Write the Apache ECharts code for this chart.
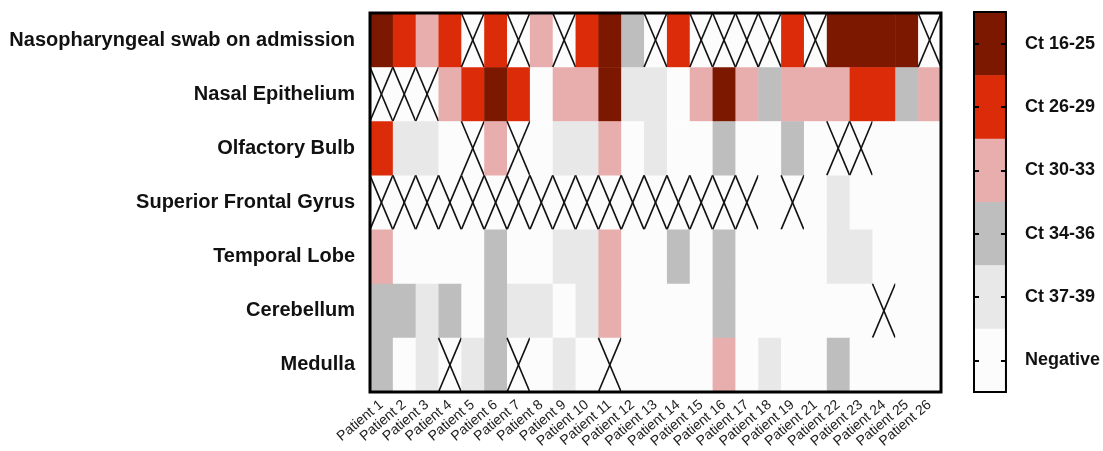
<!DOCTYPE html>
<html>
<head>
<meta charset="utf-8">
<script src="https://cdn.jsdelivr.net/npm/echarts@6/dist/echarts.min.js"></script>
<style>
html,body{margin:0;padding:0;background:#fff;}
#chart{width:1103px;height:451px;}
</style>
</head>
<body>
<div id="chart"></div>
<script>
// ---- data ----
const patients = ['Patient 1','Patient 2','Patient 3','Patient 4','Patient 5','Patient 6','Patient 7','Patient 8','Patient 9','Patient 10','Patient 11','Patient 12','Patient 13','Patient 14','Patient 15','Patient 16','Patient 17','Patient 18','Patient 19','Patient 21','Patient 22','Patient 23','Patient 24','Patient 25','Patient 26'];
const tissues = ['Nasopharyngeal swab on admission','Nasal Epithelium','Olfactory Bulb','Superior Frontal Gyrus','Temporal Lobe','Cerebellum','Medulla'];
const ctLabels = ['Ct 16-25','Ct 26-29','Ct 30-33','Ct 34-36','Ct 37-39','Negative'];
// level codes: 5 = Ct 16-25, 4 = Ct 26-29, 3 = Ct 30-33, 2 = Ct 34-36, 1 = Ct 37-39, 0 = Negative, X = not tested (crossed)
const X = -1;
const nasopharyngeal = [5,4,3,4,X,4,X,3,X,4,5,2,X,4,X,X,X,X,4,X,5,5,5,5,X];
const nasalEpithelium = [X,X,X,3,4,5,4,0,3,3,5,1,1,0,3,5,3,2,3,3,3,4,4,2,3];
const olfactoryBulb  = [4,1,1,0,X,3,X,0,1,1,3,0,1,0,0,2,0,0,2,0,X,X,0,0,0];
const superiorFrontal = [X,X,X,X,X,X,X,X,X,X,X,X,X,X,X,X,X,0,X,0,1,0,0,0,0];
const temporalLobe   = [3,0,0,0,0,2,0,0,1,1,3,0,0,2,0,2,0,0,0,0,1,1,0,0,0];
const cerebellum     = [2,2,1,2,0,2,1,1,0,1,3,0,0,0,0,2,0,0,0,0,0,0,X,0,0];
const medulla        = [2,0,1,X,1,2,X,0,1,0,X,0,0,0,0,3,0,1,0,0,2,0,0,0,0];
const legendLevels = [5,4,3,2,1,0];

// ---- styles ----
const levelColors = {5:'#7c1700',4:'#dc2b08',3:'#e8aeae',2:'#bebebe',1:'#e8e8e8',0:'#fcfcfc'};
const rows = [nasopharyngeal,nasalEpithelium,olfactoryBulb,superiorFrontal,temporalLobe,cerebellum,medulla];
const cells = [];
rows.forEach((r, yi) => r.forEach((v, xi) => cells.push([xi, yi, v])));
const legendCells = legendLevels.map((lv, i) => [0, i, lv]);

const FONT = '"Liberation Sans", Arial, Helvetica, sans-serif';

function renderCell(params, api) {
  const xi = api.value(0), yi = api.value(1), v = api.value(2);
  const c = api.coord([xi, yi]);
  const s = api.size([1, 1]);
  const x0 = c[0] - s[0] / 2, y0 = c[1] - s[1] / 2;
  const children = [{
    type: 'rect',
    shape: {x: x0, y: y0, width: s[0] + 0.5, height: s[1] + 0.5},
    style: {fill: v === X ? '#fcfcfc' : levelColors[v], stroke: null}
  }];
  if (v === X) {
    children.push({type:'line', shape:{x1:x0, y1:y0, x2:x0+s[0], y2:y0+s[1]}, style:{stroke:'#111', lineWidth:1.6}});
    children.push({type:'line', shape:{x1:x0+s[0], y1:y0, x2:x0, y2:y0+s[1]}, style:{stroke:'#111', lineWidth:1.6}});
  }
  return {type:'group', children};
}

const chart = echarts.init(document.getElementById('chart'), null, {renderer:'canvas'});
chart.setOption({
  backgroundColor: '#ffffff',
  animation: false,
  textStyle: {fontFamily: FONT},
  grid: [
    {left: 370, top: 13, width: 571, height: 379, show: true, z: 10, backgroundColor: 'transparent', borderColor: '#000', borderWidth: 3},
    {left: 974, top: 12, width: 34, height: 380, show: true, z: 10, backgroundColor: 'transparent', borderColor: '#000', borderWidth: 2}
  ],
  xAxis: [
    {gridIndex: 0, type: 'category', data: patients, boundaryGap: true,
     axisLine: {show: false}, axisTick: {show: false}, splitLine: {show: false},
     axisLabel: {interval: 0, rotate: 40, margin: 11, fontSize: 14, color: '#222', fontFamily: FONT}},
    {gridIndex: 1, type: 'category', data: [''], show: false}
  ],
  yAxis: [
    {gridIndex: 0, type: 'category', data: tissues, inverse: true, boundaryGap: true,
     axisLine: {show: false}, axisTick: {show: false}, splitLine: {show: false},
     axisLabel: {fontSize: 20, fontWeight: 'bold', color: '#111', margin: 15, fontFamily: FONT}},
    {gridIndex: 1, type: 'category', data: ctLabels, inverse: true, position: 'right', boundaryGap: true, z: 12,
     axisLine: {show: false}, splitLine: {show: false},
     axisTick: {show: true, inside: true, alignWithLabel: true, length: 5, lineStyle: {color: '#000', width: 2}},
     axisLabel: {fontSize: 18, fontWeight: 'bold', color: '#111', margin: 19, padding: [4, 0, 0, 0], fontFamily: FONT}},
    {gridIndex: 1, type: 'category', data: ctLabels, inverse: true, position: 'left', boundaryGap: true, z: 12,
     axisLine: {show: false}, splitLine: {show: false},
     axisTick: {show: true, inside: true, alignWithLabel: true, length: 5, lineStyle: {color: '#000', width: 2}},
     axisLabel: {show: false}}
  ],
  series: [
    {type: 'custom', xAxisIndex: 0, yAxisIndex: 0, data: cells, renderItem: renderCell, z: 2, silent: true},
    {type: 'custom', xAxisIndex: 1, yAxisIndex: 1, data: legendCells, renderItem: renderCell, z: 2, silent: true}
  ]
});
</script>
</body>
</html>
